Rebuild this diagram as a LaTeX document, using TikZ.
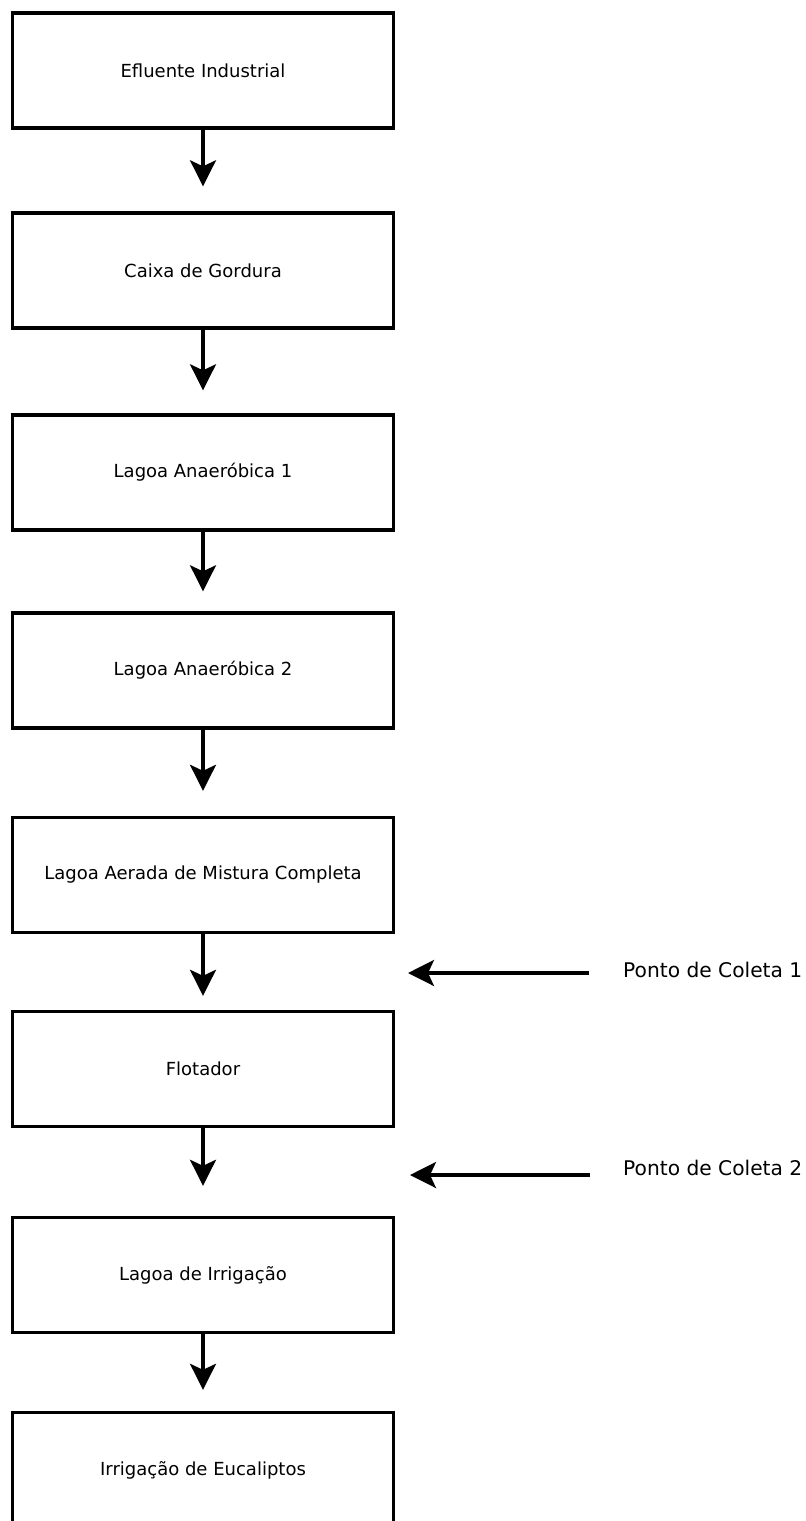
\documentclass[tikz,border=0pt]{standalone}
\usepackage{fontspec}
\setmainfont{DejaVu Sans}
\usetikzlibrary{arrows.meta}
\begin{document}
\begin{tikzpicture}[x=1pt,y=-1pt,
  stagebox/.style={draw=black, line width=3.4pt, minimum width=381pt, minimum height=115pt, inner sep=0pt, font=\fontsize{18}{21}\selectfont},
  flowarrow/.style={line width=3.4pt, -{Stealth[length=26pt,width=26pt,inset=6pt]}},
  sidelabel/.style={anchor=west, inner sep=0pt, font=\fontsize{20.2}{23}\selectfont}]
\useasboundingbox (0,0) rectangle (806,1521);
\clip (0,0) rectangle (806,1521);
\node[stagebox] (b1) at (203,70.5) {Efluente Industrial};
\node[stagebox] (b2) at (203,270.5) {Caixa de Gordura};
\node[stagebox] (b3) at (203,472.5) {Lagoa Anaeróbica 1};
\node[stagebox] (b4) at (203,670.5) {Lagoa Anaeróbica 2};
\node[stagebox] (b5) at (203,875) {Lagoa Aerada de Mistura Completa};
\node[stagebox] (b6) at (203,1069) {Flotador};
\node[stagebox] (b7) at (203,1275) {Lagoa de Irrigação};
\node[stagebox] (b8) at (203,1470) {Irrigação de Eucaliptos};
\draw[flowarrow, shorten >=25pt] (b1) -- (b2);
\draw[flowarrow, shorten >=23pt] (b2) -- (b3);
\draw[flowarrow, shorten >=20pt] (b3) -- (b4);
\draw[flowarrow, shorten >=25pt] (b4) -- (b5);
\draw[flowarrow, shorten >=14pt] (b5) -- (b6);
\draw[flowarrow, shorten >=30pt] (b6) -- (b7);
\draw[flowarrow, shorten >=21pt] (b7) -- (b8);
\node[sidelabel] (p1) at (623,970) {Ponto de Coleta 1};
\node[sidelabel] (p2) at (623,1168) {Ponto de Coleta 2};
\coordinate (c1) at (408,973);
\coordinate (c2) at (410,1175);
\draw[flowarrow, shorten <=34pt] (p1.west |- c1) -- (c1);
\draw[flowarrow, shorten <=33pt] (p2.west |- c2) -- (c2);
\end{tikzpicture}
\end{document}
